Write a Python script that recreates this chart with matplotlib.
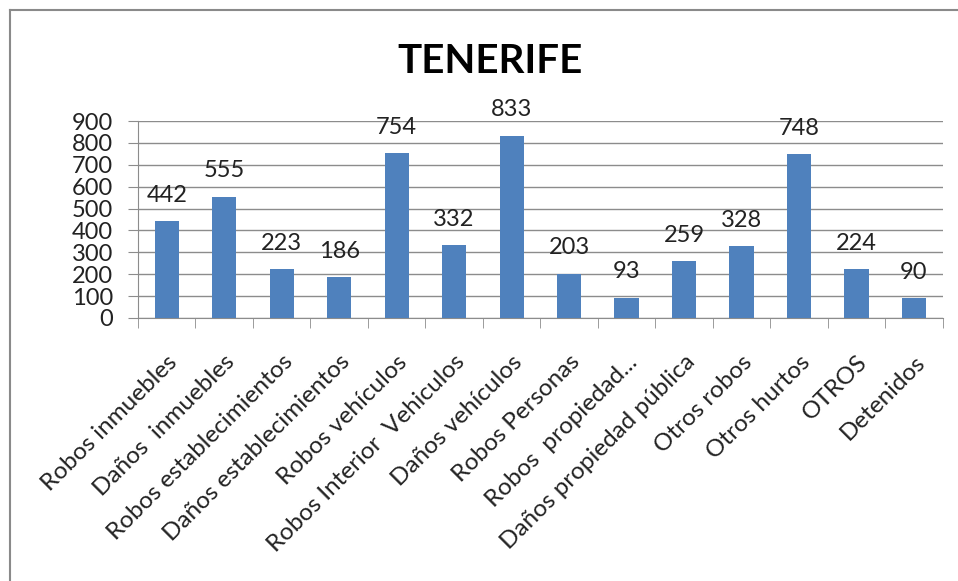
import numpy as np
import matplotlib.pyplot as plt
from matplotlib.lines import Line2D

categorias = ["Robos inmuebles", "Daños  inmuebles", "Robos establecimientos",
              "Daños establecimientos", "Robos vehículos", "Robos Interior  Vehiculos",
              "Daños vehículos", "Robos Personas", "Robos  propiedad...",
              "Daños propiedad pública", "Otros robos", "Otros hurtos", "OTROS",
              "Detenidos"]
valores = [442, 555, 223, 186, 754, 332, 833, 203, 93, 259, 328, 748, 224, 90]

plt.rcParams['font.family'] = ['Lato', 'DejaVu Sans']

fig = plt.figure(figsize=(9.58, 5.81), dpi=100)
ax = fig.add_axes([0.144, 0.4527, 0.84, 0.339])

x = np.arange(len(categorias))
ax.bar(x, valores, width=0.42, color='#4F81BD', zorder=3)

for xi, v in zip(x, valores):
    ax.annotate(str(v), (xi, v), xytext=(0, 14), textcoords='offset points',
                ha='center', va='baseline', fontsize=17, color='#222222')

ax.set_xlim(-0.5, len(categorias) - 0.5)
ax.set_ylim(0, 900)
ax.set_yticks(np.arange(0, 901, 100))
ax.yaxis.grid(True, color='#8c8c8c', linewidth=1.0, zorder=0)
ax.tick_params(axis='y', labelsize=17, length=7, color='#8c8c8c', labelcolor='#222222', pad=11)

ax.set_xticks(x)
ax.set_xticklabels(categorias, rotation=45, ha='right', rotation_mode='anchor',
                   fontsize=17.5, color='#222222')
ax.tick_params(axis='x', length=0, pad=24)
# marcas entre categorias
ax.set_xticks(np.arange(-0.5, len(categorias), 1), minor=True)
ax.tick_params(axis='x', which='minor', length=7, color='#8c8c8c')

for lado in ['top', 'right']:
    ax.spines[lado].set_visible(False)
ax.spines['left'].set_color('#8c8c8c')
ax.spines['bottom'].set_color('#8c8c8c')

fig.text(0.512, 0.895, 'TENERIFE', ha='center', va='center', fontsize=29,
         fontweight='bold', color='black')

# marco del grafico
fig.add_artist(Line2D([0.0104, 0.0104], [0, 0.983], color='#8a8a8a', lw=1.5))
fig.add_artist(Line2D([0.0104, 1.0], [0.983, 0.983], color='#8a8a8a', lw=1.5))

fig.savefig('out.png', dpi=100, facecolor='white')
